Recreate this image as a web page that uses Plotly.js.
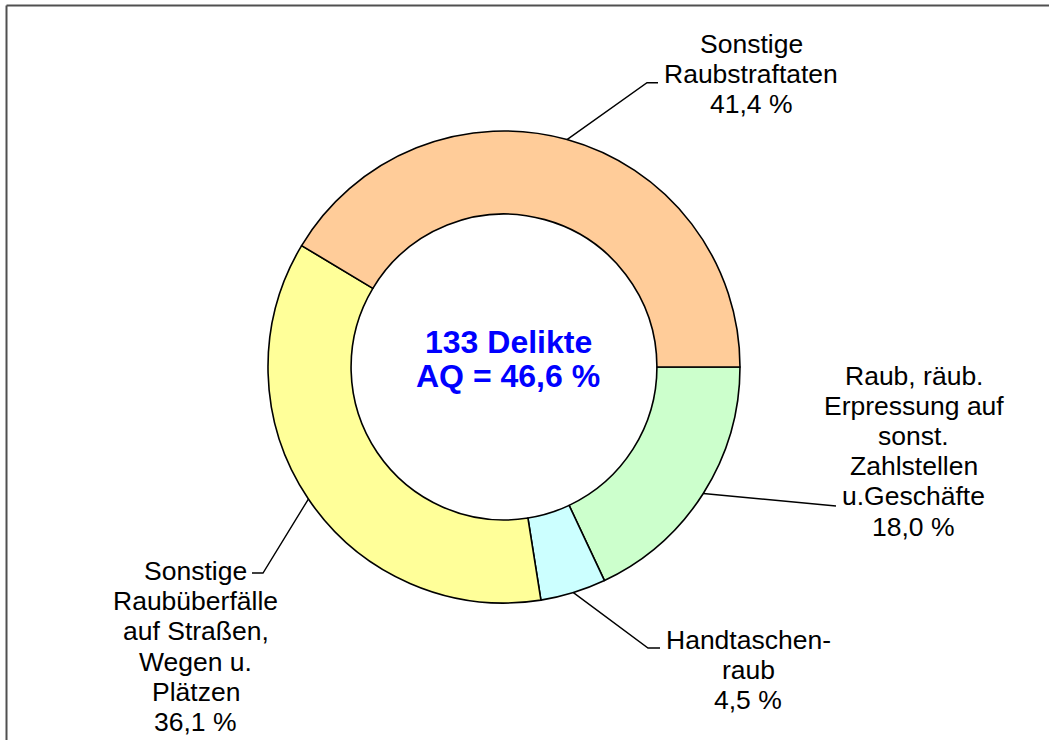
<!DOCTYPE html>
<html>
<head>
<meta charset="utf-8">
<script src="https://cdn.plot.ly/plotly-3.0.1.min.js"></script>
<style>
  html, body { margin: 0; padding: 0; background: #ffffff; }
  #chart { width: 1049px; height: 740px; }
</style>
</head>
<body>
<div id="chart"></div>
<script>
// ---------- data ----------
const categories = [
  "Raub, räub.\nErpressung auf\nsonst.\nZahlstellen\nu.Geschäfte",
  "Handtaschen-\nraub",
  "Sonstige\nRaubüberfälle\nauf Straßen,\nWegen u.\nPlätzen",
  "Sonstige\nRaubstraftaten"
];
const shares = [18.0, 4.5, 36.1, 41.4];
const totalCases = 133;
const clearanceRate = 46.6;

// ---------- style / layout ----------
const sliceColors = ["#CCFFCC", "#CCFFFF", "#FFFF99", "#FFCC99"];
const W = 1049, H = 740;
const pieCx = 504, pieCy = 367, pieR = 236, holeFrac = 0.648;
const startRotation = 90; // first slice starts at 3 o'clock, clockwise
const labelFont = { family: "Liberation Sans, Arial, sans-serif", size: 26.5, color: "#000000" };
const centerFont = { family: "Liberation Sans, Arial, sans-serif", size: 32, color: "#0000FF" };
const lineGap = 30.2;
const labelPlacement = [
  { cx: 913.5, cy0: 375.5, path: [[836, 506]] },
  { cx: 748,   cy0: 640,   path: [[648, 648], [660, 648]] },
  { cx: 195.6, cy0: 571,   path: [[263, 573], [252, 573]] },
  { cx: 751,   cy0: 44,    path: [[647, 82.7], [658, 82.7]] }
];

const px = x => x / W;
const py = y => 1 - y / H;
const fmt = v => v.toFixed(1).replace(".", ",") + " %";

const trace = {
  type: "pie",
  values: shares,
  labels: categories.map(c => c.replace(/\n/g, " ")),
  sort: false,
  direction: "clockwise",
  rotation: startRotation,
  hole: holeFrac,
  textinfo: "none",
  hoverinfo: "label+percent",
  marker: { colors: sliceColors, line: { color: "#000000", width: 1.6 } },
  domain: {
    x: [px(pieCx - pieR), px(pieCx + pieR)],
    y: [py(pieCy + pieR), py(pieCy - pieR)]
  },
  showlegend: false
};

const annotations = [];
const shapes = [];
const total = shares.reduce((a, b) => a + b, 0);
let cum = 0;
shares.forEach((v, i) => {
  const mid = (startRotation + 360 * (cum + v / 2) / total) * Math.PI / 180;
  cum += v;
  const sx = pieCx + pieR * Math.sin(mid);
  const sy = pieCy - pieR * Math.cos(mid);
  const pts = [[sx, sy]].concat(labelPlacement[i].path);
  shapes.push({
    type: "path", xref: "paper", yref: "paper",
    path: pts.map((p, k) => (k ? "L" : "M") + px(p[0]) + "," + py(p[1])).join(" "),
    line: { color: "#000000", width: 1.4 }
  });
  const lines = categories[i].split("\n").concat([fmt(v)]);
  lines.forEach((t, k) => {
    annotations.push({
      xref: "paper", yref: "paper",
      x: px(labelPlacement[i].cx), y: py(labelPlacement[i].cy0 + k * lineGap),
      xanchor: "center", yanchor: "middle",
      text: t, showarrow: false, font: labelFont
    });
  });
});

// center text
annotations.push({
  xref: "paper", yref: "paper", x: px(508), y: py(342),
  xanchor: "center", yanchor: "middle",
  text: "<b>" + totalCases + " Delikte</b>", showarrow: false, font: centerFont
});
annotations.push({
  xref: "paper", yref: "paper", x: px(508), y: py(376),
  xanchor: "center", yanchor: "middle",
  text: "<b>AQ = " + fmt(clearanceRate) + "</b>", showarrow: false, font: centerFont
});

// frame (top and left edges visible)
shapes.push({ type: "line", xref: "paper", yref: "paper",
  x0: px(6.5), y0: py(5.5), x1: 1.01, y1: py(5.5), line: { color: "#505050", width: 2 } });
shapes.push({ type: "line", xref: "paper", yref: "paper",
  x0: px(6.5), y0: py(5.5), x1: px(6.5), y1: -0.01, line: { color: "#505050", width: 2 } });

const layout = {
  width: W, height: H,
  margin: { l: 0, r: 0, t: 0, b: 0 },
  paper_bgcolor: "#ffffff",
  plot_bgcolor: "#ffffff",
  showlegend: false,
  annotations: annotations,
  shapes: shapes
};

Plotly.newPlot("chart", [trace], layout, { displayModeBar: false, staticPlot: true });
</script>
</body>
</html>
